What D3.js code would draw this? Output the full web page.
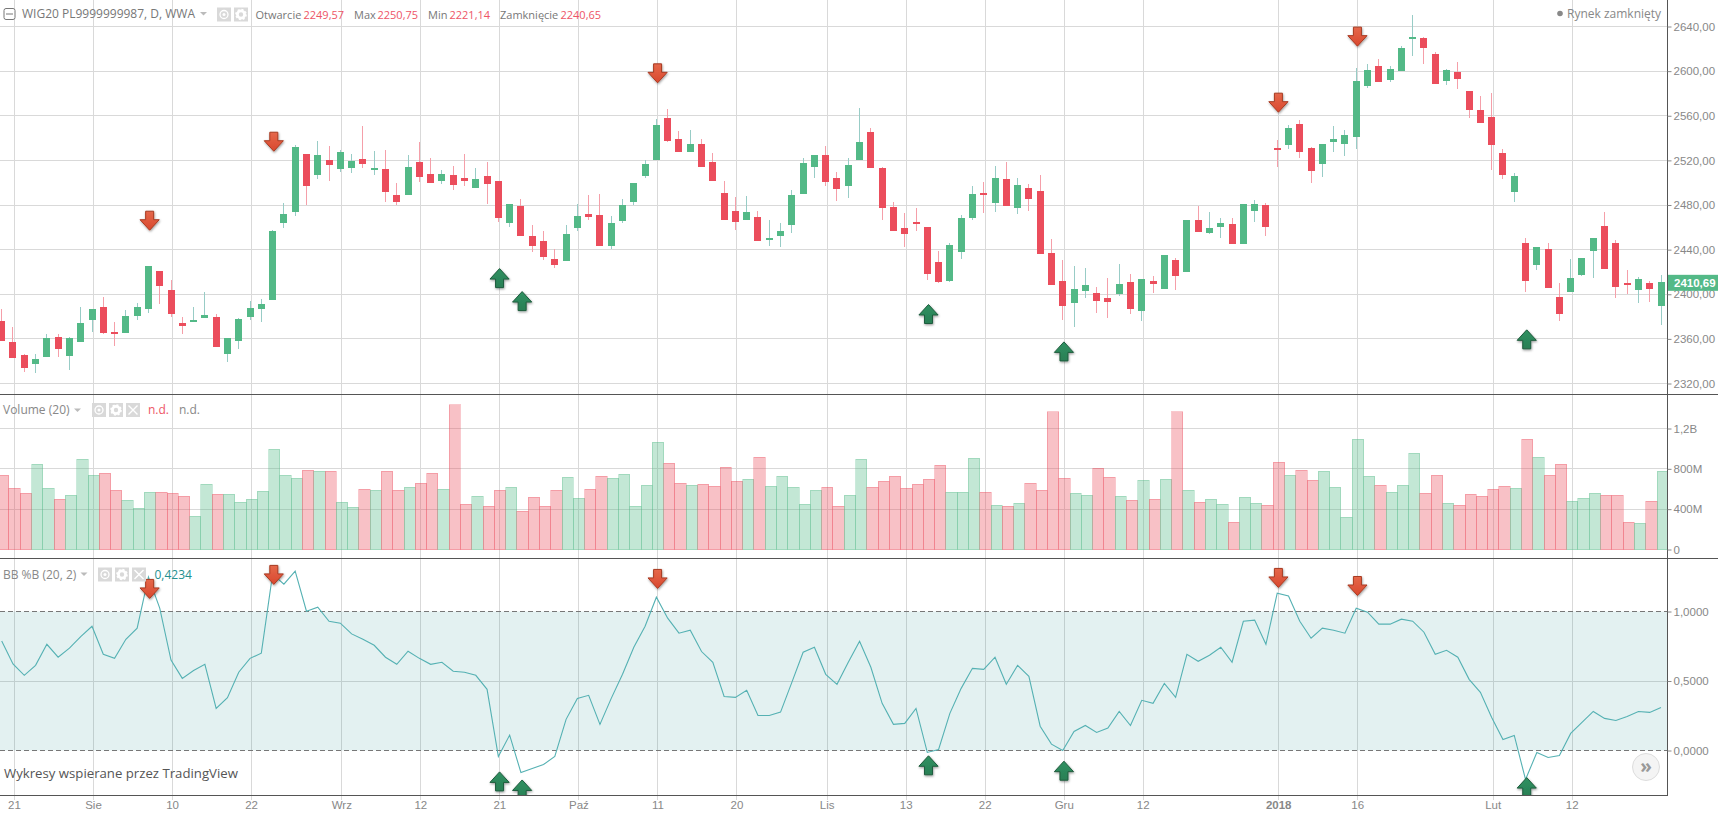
<!DOCTYPE html>
<html>

<head>
	<title>WIG20</title>
	<meta http-equiv="Content-Type" content="text/html; charset=UTF-8">
	<style>
		html,
		body {
			margin: 0px;
			padding: 0px;
			background: #fff;
			overflow: hidden;
		}

		svg {
			display: block;
		}

		text {
			font-family: "Open Sans", sans-serif;
			font-size: 11.5px;
		}

		.axis text {
			font-family: "Liberation Sans", Arial, sans-serif;
			font-size: 11.5px;
			fill: #888;
		}

		.axis line {
			stroke: #888;
		}

		.axis .domain {
			display: none;
		}

		.grid {
			stroke: #d9d9d9;
			stroke-width: 1;
			shape-rendering: crispEdges;
		}
	</style>
	<script src="https://cdnjs.cloudflare.com/ajax/libs/d3/7.8.5/d3.min.js"></script>
</head>

<body>

	<div id="chart"></div>

	<script>
		// x axis: candle number of each labelled date
		const tickIndex = [1, 8, 15, 22, 30, 37, 44, 51, 58, 65, 73, 80, 87, 94, 101, 113, 120, 132, 139];
		const tickLabels = ["21", "Sie", "10", "22", "Wrz", "12", "21", "Paź", "11", "20", "Lis", "13", "22", "Gru", "12", "2018", "16", "Lut", "12"];

		const priceTicks = [2320, 2360, 2400, 2440, 2480, 2520, 2560, 2600, 2640];
		const volumeTicks = [0, 400, 800, 1200];
		const volumeTickLabels = ["0", "400M", "800M", "1,2B"];
		const bandTicks = [0, 0.5, 1];

		const open = [
			2375.9, 2357.0, 2345.4, 2337.6, 2343.9, 2361.5, 2344.8, 2357.3, 2377.0, 2388.4, 2366.0, 2365.4,
			2380.3, 2386.9, 2420.7, 2403.6, 2374.1, 2375.3, 2378.8, 2379.4, 2346.6, 2358.2, 2379.4, 2386.9,
			2395.0, 2464.0, 2473.9, 2525.6, 2507.0, 2520.2, 2512.4, 2513.3, 2521.1, 2511.5, 2512.1, 2488.8,
			2489.1, 2518.4, 2507.6, 2501.6, 2506.7, 2504.0, 2495.4, 2505.8, 2501.4, 2464.0, 2478.9, 2452.0,
			2447.6, 2431.4, 2430.0, 2459.5, 2471.8, 2470.9, 2443.4, 2465.8, 2482.8, 2506.1, 2520.2, 2557.8,
			2539.0, 2527.6, 2534.5, 2518.4, 2490.6, 2474.5, 2466.7, 2469.1, 2448.8, 2452.4, 2462.2, 2490.0,
			2514.2, 2524.7, 2504.0, 2497.2, 2520.5, 2545.3, 2513.0, 2478.0, 2459.2, 2464.6, 2460.1, 2428.7,
			2412.0, 2438.0, 2468.5, 2490.6, 2481.9, 2503.1, 2477.4, 2495.1, 2492.4, 2436.8, 2411.7, 2392.3,
			2403.0, 2401.0, 2396.5, 2400.4, 2410.8, 2385.1, 2411.7, 2404.8, 2430.5, 2420.1, 2466.4, 2455.0,
			2460.4, 2462.8, 2445.2, 2474.8, 2479.8, 2530.9, 2533.9, 2552.4, 2530.9, 2516.9, 2536.6, 2534.8,
			2541.1, 2586.5, 2604.4, 2592.2, 2600.3, 2628.9, 2629.5, 2615.2, 2591.3, 2599.1, 2582.0, 2565.0,
			2558.7, 2526.4, 2491.8, 2445.8, 2426.4, 2440.4, 2397.4, 2402.1, 2417.4, 2438.9, 2461.0, 2445.8,
			2409.9, 2403.9, 2409.9, 2389.6
		];
		const high = [
			2387.2, 2370.5, 2346.3, 2346.3, 2364.2, 2364.2, 2361.5, 2388.4, 2387.2, 2397.4, 2375.3, 2385.7,
			2392.0, 2425.2, 2420.7, 2412.6, 2379.4, 2388.4, 2401.9, 2382.1, 2360.6, 2378.5, 2393.8, 2395.6,
			2457.4, 2481.6, 2534.2, 2525.6, 2537.2, 2532.7, 2529.1, 2525.6, 2550.7, 2528.2, 2529.1, 2499.6,
			2524.7, 2536.3, 2522.0, 2511.2, 2514.8, 2525.6, 2513.0, 2518.4, 2501.4, 2481.0, 2485.2, 2461.9,
			2456.5, 2440.4, 2461.9, 2480.7, 2488.8, 2489.7, 2470.0, 2485.2, 2499.6, 2520.2, 2556.9, 2565.9,
			2546.2, 2547.1, 2539.0, 2526.5, 2501.4, 2487.0, 2487.9, 2474.5, 2466.4, 2463.7, 2493.3, 2522.0,
			2524.7, 2532.7, 2509.4, 2522.0, 2566.8, 2548.9, 2513.9, 2482.5, 2472.7, 2477.1, 2460.1, 2438.6,
			2445.8, 2470.9, 2496.9, 2500.5, 2514.8, 2518.4, 2504.0, 2498.7, 2506.7, 2449.4, 2430.5, 2425.2,
			2423.4, 2406.3, 2414.4, 2426.9, 2418.0, 2413.5, 2416.2, 2435.0, 2432.3, 2466.4, 2478.9, 2473.6,
			2468.2, 2468.2, 2480.7, 2484.3, 2481.6, 2538.1, 2551.5, 2556.0, 2531.8, 2534.5, 2550.7, 2547.1,
			2602.6, 2606.2, 2610.7, 2604.4, 2622.4, 2650.2, 2630.4, 2617.0, 2601.7, 2608.0, 2582.0, 2577.5,
			2580.2, 2530.0, 2508.5, 2450.3, 2442.2, 2445.8, 2409.9, 2431.4, 2432.3, 2450.3, 2473.6, 2448.5,
			2421.6, 2415.3, 2411.7, 2417.1
		];
		const low = [
			2358.2, 2343.0, 2330.4, 2329.5, 2343.9, 2343.9, 2331.9, 2357.3, 2366.0, 2364.5, 2353.4, 2365.4,
			2377.0, 2383.3, 2391.4, 2379.7, 2364.5, 2375.3, 2378.8, 2352.8, 2339.4, 2351.1, 2377.0, 2375.3,
			2395.0, 2459.5, 2470.3, 2479.8, 2503.4, 2501.6, 2509.7, 2508.8, 2513.3, 2507.0, 2482.8, 2480.1,
			2489.1, 2500.8, 2499.9, 2499.0, 2493.6, 2497.2, 2495.4, 2481.0, 2464.9, 2460.4, 2452.4, 2438.0,
			2430.8, 2423.7, 2430.0, 2456.8, 2466.7, 2443.4, 2440.4, 2464.0, 2480.1, 2504.3, 2520.2, 2536.3,
			2527.6, 2527.6, 2514.2, 2501.6, 2466.7, 2457.4, 2466.7, 2447.9, 2443.4, 2442.5, 2455.0, 2490.0,
			2504.3, 2497.2, 2483.7, 2486.4, 2520.5, 2513.3, 2466.7, 2456.8, 2442.5, 2456.8, 2412.9, 2410.2,
			2411.1, 2431.7, 2466.7, 2473.0, 2473.9, 2479.2, 2472.1, 2474.8, 2436.2, 2408.4, 2377.0, 2370.8,
			2396.8, 2383.3, 2378.8, 2398.6, 2382.4, 2376.2, 2401.3, 2404.8, 2403.9, 2420.1, 2455.9, 2454.1,
			2450.6, 2445.2, 2445.2, 2464.9, 2452.4, 2514.2, 2530.3, 2522.3, 2499.9, 2505.2, 2527.6, 2524.1,
			2530.3, 2585.0, 2590.4, 2590.4, 2600.3, 2613.7, 2606.5, 2588.6, 2587.7, 2584.1, 2558.1, 2553.6,
			2511.5, 2503.4, 2482.8, 2402.1, 2421.9, 2405.7, 2376.2, 2402.1, 2416.5, 2414.7, 2422.8, 2396.8,
			2400.0, 2392.3, 2393.2, 2372.6
		];
		const close = [
			2358.2, 2343.0, 2334.0, 2341.8, 2360.6, 2351.1, 2360.6, 2374.1, 2386.6, 2365.1, 2365.1, 2380.3,
			2388.4, 2425.2, 2407.5, 2382.1, 2371.7, 2376.8, 2381.2, 2352.8, 2360.6, 2377.6, 2387.5, 2391.1,
			2456.5, 2471.8, 2531.8, 2497.2, 2524.7, 2516.0, 2527.4, 2519.3, 2516.9, 2513.0, 2491.8, 2482.8,
			2513.9, 2505.2, 2499.9, 2507.6, 2498.1, 2501.6, 2503.1, 2499.0, 2468.5, 2480.7, 2452.4, 2443.4,
			2433.5, 2426.4, 2453.8, 2470.0, 2469.4, 2443.4, 2463.7, 2479.8, 2499.6, 2516.6, 2551.5, 2537.5,
			2527.6, 2534.5, 2514.2, 2501.6, 2466.7, 2464.9, 2473.6, 2447.9, 2450.3, 2456.5, 2488.8, 2517.5,
			2524.7, 2500.8, 2494.5, 2515.7, 2536.3, 2513.3, 2477.4, 2456.8, 2454.1, 2464.0, 2418.3, 2411.1,
			2444.0, 2468.2, 2489.7, 2489.1, 2504.0, 2479.2, 2497.8, 2485.5, 2436.2, 2408.4, 2389.6, 2404.5,
			2408.1, 2394.1, 2393.2, 2409.0, 2386.9, 2413.5, 2409.3, 2435.0, 2416.5, 2466.4, 2455.9, 2459.2,
			2463.7, 2445.2, 2480.7, 2480.7, 2460.4, 2529.4, 2548.9, 2527.6, 2510.6, 2534.5, 2539.0, 2542.6,
			2591.0, 2600.9, 2590.4, 2601.7, 2620.6, 2630.4, 2620.9, 2588.6, 2600.9, 2593.1, 2565.3, 2553.6,
			2533.9, 2507.0, 2505.8, 2412.0, 2442.2, 2405.7, 2382.4, 2414.4, 2432.3, 2450.3, 2422.8, 2406.6,
			2408.4, 2413.5, 2404.8, 2410.69
		];

		// volume in millions
		const volume = [
			735, 607, 557, 844, 607, 498, 537, 893, 735, 755, 587, 488,
			409, 567, 567, 557, 527, 330, 646, 547, 547, 468, 498, 577,
			992, 735, 705, 785, 775, 775, 468, 419, 597, 587, 775, 587,
			616, 656, 755, 597, 1437, 448, 527, 429, 587, 616, 379, 518,
			429, 587, 715, 508, 597, 725, 705, 745, 429, 636, 1062, 854,
			656, 636, 646, 626, 814, 676, 696, 913, 626, 725, 616, 448,
			587, 616, 429, 537, 893, 616, 676, 725, 607, 646, 696, 834,
			567, 567, 903, 567, 438, 429, 458, 656, 587, 1368, 705, 557,
			537, 804, 715, 527, 488, 686, 498, 696, 1368, 587, 468, 498,
			448, 270, 518, 458, 438, 864, 735, 785, 686, 775, 616, 320,
			1091, 725, 636, 567, 636, 953, 557, 735, 458, 438, 547, 527,
			597, 626, 607, 1091, 913, 735, 844, 478, 508, 557, 537, 537,
			270, 260, 478, 775
		];

		const percentB = [
			0.788, 0.623, 0.541, 0.613, 0.764, 0.671, 0.736, 0.820, 0.894, 0.692, 0.663, 0.800,
			0.880, 1.248, 1.024, 0.651, 0.519, 0.575, 0.620, 0.303, 0.380, 0.563, 0.663, 0.700,
			1.269, 1.197, 1.291, 1.002, 1.031, 0.930, 0.916, 0.839, 0.800, 0.757, 0.671, 0.620,
			0.714, 0.663, 0.620, 0.635, 0.570, 0.563, 0.541, 0.440, -0.043, 0.111, -0.159, -0.130,
			-0.101, -0.043, 0.224, 0.375, 0.397, 0.188, 0.375, 0.548, 0.743, 0.894, 1.103, 0.952,
			0.844, 0.865, 0.712, 0.635, 0.389, 0.382, 0.433, 0.252, 0.252, 0.276, 0.490, 0.707,
			0.743, 0.548, 0.476, 0.635, 0.786, 0.599, 0.339, 0.188, 0.195, 0.303, -0.014, 0.007,
			0.267, 0.447, 0.591, 0.584, 0.671, 0.476, 0.613, 0.534, 0.175, 0.046, 0.000, 0.137,
			0.180, 0.130, 0.161, 0.281, 0.180, 0.361, 0.339, 0.483, 0.382, 0.692, 0.642, 0.685,
			0.743, 0.635, 0.930, 0.938, 0.764, 1.132, 1.111, 0.930, 0.808, 0.880, 0.865, 0.844,
			1.024, 0.995, 0.909, 0.909, 0.945, 0.930, 0.851, 0.692, 0.721, 0.671, 0.512, 0.418,
			0.238, 0.079, 0.108, -0.209, -0.014, -0.050, -0.036, 0.123, 0.202, 0.281, 0.231, 0.216,
			0.245, 0.281, 0.274, 0.310
		];

		// signal arrows: candle number, tip on the price pane, tip on the %B pane
		const sellIndex = [13, 24, 58, 113, 120];
		const sellPrice = [2457.4, 2528.2, 2589.5, 2563.2, 2622.4];
		const sellBand = [1.094, 1.195, 1.166, 1.173, 1.115];
		const buyIndex = [44, 46, 82, 94, 135];
		const buyPrice = [2423.0, 2402.4, 2390.8, 2357.3, 2368.1];
		const buyBand = [-0.154, -0.212, -0.038, -0.077, -0.195];

		const width = 1718;
		const height = 814;
		const axisX = 1667.5;

		const upColor = "#53b987";
		const downColor = "#eb4d5c";

		const x = d3.scaleLinear().domain([0, 147]).range([1.7, 1661]);
		const yPrice = d3.scaleLinear().domain([2320, 2640]).range([383.5, 26.5]);
		const yVolume = d3.scaleLinear().domain([0, 1200]).range([549.5, 428.5]);
		const yBand = d3.scaleLinear().domain([0, 1]).range([750.5, 611.5]);

		const pl = d3.formatLocale({ decimal: ",", thousands: " ", grouping: [3], currency: ["", " zł"] });

		const svg = d3.select("#chart").append("svg").attr("width", width).attr("height", height);
		const defs = svg.append("defs");

		function addClip(id, top, bottom) {
			defs.append("clipPath").attr("id", id).append("rect")
				.attr("x", 0).attr("y", top).attr("width", axisX).attr("height", bottom - top);
		}
		addClip("clip-price", 0, 394);
		addClip("clip-volume", 395, 558);
		addClip("clip-band", 559, 795);

		function addGradient(id, top, bottom) {
			const g = defs.append("linearGradient").attr("id", id).attr("x1", 0).attr("x2", 0).attr("y1", 0).attr("y2", 1);
			g.append("stop").attr("offset", "0%").attr("stop-color", top);
			g.append("stop").attr("offset", "100%").attr("stop-color", bottom);
		}
		addGradient("sell-fill", "#e5684a", "#d9482f");
		addGradient("buy-fill", "#2f9161", "#2a7f55");

		const shadow = defs.append("filter").attr("id", "arrow-shadow")
			.attr("x", "-30%").attr("y", "-30%").attr("width", "170%").attr("height", "170%");
		shadow.append("feDropShadow").attr("dx", 0.6).attr("dy", 1.2).attr("stdDeviation", 0.8)
			.attr("flood-color", "#000").attr("flood-opacity", 0.4);

		// grid lines run through all the panes
		const gridLayer = svg.append("g");
		gridLayer.selectAll("line.v").data(tickIndex).join("line")
			.attr("class", "grid v")
			.attr("x1", d => Math.round(x(d) + 1) + 0.5)
			.attr("x2", d => Math.round(x(d) + 1) + 0.5)
			.attr("y1", 0).attr("y2", 800);

		function hGrid(values, scale) {
			gridLayer.selectAll(null).data(values).join("line")
				.attr("class", "grid")
				.attr("x1", 0).attr("x2", axisX)
				.attr("y1", d => Math.floor(scale(d)) + 0.5)
				.attr("y2", d => Math.floor(scale(d)) + 0.5);
		}
		hGrid(priceTicks, yPrice);
		hGrid(volumeTicks.slice(1), yVolume);
		hGrid([0.5], yBand);

		// candles
		const candles = svg.append("g").attr("clip-path", "url(#clip-price)");
		const isUp = i => close[i] >= open[i];

		candles.selectAll("line").data(d3.range(open.length)).join("line")
			.attr("x1", i => Math.floor(x(i)) + 0.5)
			.attr("x2", i => Math.floor(x(i)) + 0.5)
			.attr("y1", i => yPrice(high[i]))
			.attr("y2", i => yPrice(low[i]))
			.attr("stroke", i => isUp(i) ? "#98ccc6" : "#f59fa9")
			.attr("shape-rendering", "crispEdges");

		candles.selectAll("rect").data(d3.range(open.length)).join("rect")
			.attr("x", i => Math.floor(x(i)) - 3)
			.attr("width", 7)
			.attr("y", i => Math.round(yPrice(Math.max(open[i], close[i]))))
			.attr("height", i => Math.max(2, Math.round(yPrice(Math.min(open[i], close[i]))) - Math.round(yPrice(Math.max(open[i], close[i])))))
			.attr("fill", i => isUp(i) ? upColor : downColor)
			.attr("shape-rendering", "crispEdges");

		// volume
		const step = x(1) - x(0);
		svg.append("g").attr("clip-path", "url(#clip-volume)")
			.selectAll("rect").data(volume).join("rect")
			.attr("x", (d, i) => x(i) - 4)
			.attr("width", step)
			.attr("y", d => yVolume(d))
			.attr("height", d => yVolume(0) - yVolume(d))
			.attr("fill", (d, i) => isUp(i) ? upColor : downColor)
			.attr("fill-opacity", 0.35)
			.attr("stroke", (d, i) => isUp(i) ? upColor : downColor)
			.attr("stroke-opacity", 0.3)
			.attr("shape-rendering", "crispEdges");

		// %B band
		const bandLayer = svg.append("g").attr("clip-path", "url(#clip-band)");
		bandLayer.append("rect")
			.attr("x", 0).attr("width", axisX)
			.attr("y", yBand(1)).attr("height", yBand(0) - yBand(1))
			.attr("fill", "rgba(0,128,128,0.11)");
		bandLayer.selectAll("line").data([0, 1]).join("line")
			.attr("x1", 0).attr("x2", axisX)
			.attr("y1", d => yBand(d)).attr("y2", d => yBand(d))
			.attr("stroke", "#777").attr("stroke-dasharray", "5,3")
			.attr("shape-rendering", "crispEdges");
		bandLayer.append("path")
			.datum(percentB)
			.attr("d", d3.line().x((d, i) => x(i)).y(d => yBand(d)))
			.attr("fill", "none")
			.attr("stroke", "#55b1b3")
			.attr("stroke-width", 1.1);

		// signal arrows, tip at the origin
		const sellShape = "M-4,-19L4,-19L4,-10.5L9.6,-10.5L0,0L-9.6,-10.5L-4,-10.5Z";
		const buyShape = "M-4,19L4,19L4,10.5L9.6,10.5L0,0L-9.6,10.5L-4,10.5Z";

		function drawArrows(layer, index, values, scale, shape, fill, edge) {
			layer.selectAll(null).data(index).join("path")
				.attr("d", shape)
				.attr("transform", (d, i) => "translate(" + (x(d) + 1.2) + "," + scale(values[i]) + ")")
				.attr("fill", fill)
				.attr("stroke", edge)
				.attr("filter", "url(#arrow-shadow)");
		}
		const priceArrows = svg.append("g").attr("clip-path", "url(#clip-price)");
		drawArrows(priceArrows, sellIndex, sellPrice, yPrice, sellShape, "url(#sell-fill)", "#a83b22");
		drawArrows(priceArrows, buyIndex, buyPrice, yPrice, buyShape, "url(#buy-fill)", "#1f5c3d");
		const bandArrows = svg.append("g").attr("clip-path", "url(#clip-band)");
		drawArrows(bandArrows, sellIndex, sellBand, yBand, sellShape, "url(#sell-fill)", "#a83b22");
		drawArrows(bandArrows, buyIndex, buyBand, yBand, buyShape, "url(#buy-fill)", "#1f5c3d");

		// pane borders
		const borders = svg.append("g").attr("stroke", "#555").attr("shape-rendering", "crispEdges");
		[394.5, 558.5, 795.5].forEach(y => {
			borders.append("line").attr("x1", 0).attr("x2", axisX).attr("y1", y).attr("y2", y);
		});
		borders.append("line").attr("x1", axisX).attr("x2", axisX).attr("y1", 0).attr("y2", 795.5);
		borders.selectAll(null).data([394.5, 558.5]).join("line")
			.attr("x1", axisX).attr("x2", width).attr("y1", d => d).attr("y2", d => d);

		// axes
		svg.append("g").attr("class", "axis").attr("transform", "translate(" + axisX + ",0)")
			.call(d3.axisRight(yPrice).tickValues(priceTicks).tickSize(4).tickPadding(2).tickFormat(pl.format(".2f")));
		svg.append("g").attr("class", "axis").attr("transform", "translate(" + axisX + ",0)")
			.call(d3.axisRight(yVolume).tickValues(volumeTicks).tickSize(4).tickPadding(2)
				.tickFormat((d, i) => volumeTickLabels[i]));
		svg.append("g").attr("class", "axis").attr("transform", "translate(" + axisX + ",0)")
			.call(d3.axisRight(yBand).tickValues(bandTicks).tickSize(4).tickPadding(2).tickFormat(pl.format(".4f")));

		const xAxis = svg.append("g").attr("class", "axis").attr("transform", "translate(1,795)")
			.call(d3.axisBottom(x).tickValues(tickIndex).tickSize(0).tickPadding(6)
				.tickFormat((d, i) => tickLabels[i]));
		xAxis.selectAll("text")
			.attr("font-weight", d => d === 113 ? "bold" : null);

		// last price label
		const lastPrice = close[close.length - 1];
		svg.append("rect")
			.attr("x", axisX + 0.5).attr("width", width - axisX)
			.attr("y", yPrice(lastPrice) - 7.5).attr("height", 16)
			.attr("fill", upColor);
		svg.append("text")
			.attr("x", 1674).attr("y", yPrice(lastPrice) + 4.5)
			.attr("fill", "#fff")
			.style("font-family", '"Liberation Sans", Arial, sans-serif')
			.style("font-weight", "bold")
			.text(pl.format(".2f")(lastPrice));

		// legends
		function label(px, py, str, color, size) {
			return svg.append("text").attr("x", px).attr("y", py)
				.attr("fill", color).style("font-size", (size || 11.5) + "px").text(str);
		}

		function caret(px, py) {
			svg.append("path").attr("d", "M" + px + "," + py + "h7l-3.5,3.5z").attr("fill", "#bbb");
		}

		function iconBox(px, py, size, kind) {
			svg.append("rect").attr("x", px).attr("y", py).attr("width", size).attr("height", size).attr("fill", "#d9d9d9");
			const cx = px + size / 2;
			const cy = py + size / 2;
			if (kind === "eye") {
				svg.append("circle").attr("cx", cx).attr("cy", cy).attr("r", 4).attr("fill", "none").attr("stroke", "#fff").attr("stroke-width", 1.3);
				svg.append("circle").attr("cx", cx).attr("cy", cy).attr("r", 1.5).attr("fill", "#fff");
			} else if (kind === "gear") {
				svg.append("circle").attr("cx", cx).attr("cy", cy).attr("r", 3.6).attr("fill", "none").attr("stroke", "#fff").attr("stroke-width", 2.8);
				svg.append("circle").attr("cx", cx).attr("cy", cy).attr("r", 5).attr("fill", "none").attr("stroke", "#fff").attr("stroke-width", 1.6).attr("stroke-dasharray", "2,1.9");
			} else {
				svg.append("path").attr("d", "M" + (cx - 4.5) + "," + (cy - 4.5) + "l9,9m0,-9l-9,9").attr("stroke", "#fff").attr("stroke-width", 1.4);
			}
		}

		svg.append("rect").attr("x", 4).attr("y", 8.5).attr("width", 11).attr("height", 11).attr("rx", 2)
			.attr("fill", "#fff").attr("stroke", "#777");
		svg.append("line").attr("x1", 6).attr("x2", 13).attr("y1", 14).attr("y2", 14).attr("stroke", "#777");

		label(22, 18, "WIG20 PL9999999987, D, WWA", "#777", 12);
		caret(200, 12);
		iconBox(217, 7.5, 14, "eye");
		iconBox(234, 7.5, 14, "gear");

		label(255.5, 19, "Otwarcie", "#777", 11);
		label(303.5, 19, "2249,57", "#ee5566", 11);
		label(354, 19, "Max", "#777", 11);
		label(377.5, 19, "2250,75", "#ee5566", 11);
		label(428, 19, "Min", "#777", 11);
		label(449.5, 19, "2221,14", "#ee5566", 11);
		label(500, 19, "Zamknięcie", "#777", 11);
		label(560.5, 19, "2240,65", "#ee5566", 11);

		svg.append("circle").attr("cx", 1560).attr("cy", 13.5).attr("r", 2.8).attr("fill", "#888");
		label(1567, 18, "Rynek zamknięty", "#888", 12);

		label(3, 414, "Volume (20)", "#888", 12);
		caret(74, 408.5);
		iconBox(92, 403, 14, "eye");
		iconBox(109, 403, 14, "gear");
		iconBox(126, 403, 14, "close");
		label(148, 414, "n.d.", "#ee5566", 12);
		label(179, 414, "n.d.", "#888", 12);

		label(3, 578.5, "BB %B (20, 2)", "#888", 12);
		caret(80.5, 572.5);
		iconBox(98, 567.5, 14, "eye");
		iconBox(115, 567.5, 14, "gear");
		iconBox(132, 567.5, 14, "close");
		label(154.5, 578.5, "0,4234", "#26908f", 12);

		label(4, 778, "Wykresy wspierane przez TradingView", "#555", 13.2);

		// scroll button
		svg.append("circle").attr("cx", 1646).attr("cy", 767).attr("r", 13.5)
			.attr("fill", "#f4f4f4").attr("stroke", "#ddd");
		svg.append("text").attr("x", 1646).attr("y", 772.5).attr("text-anchor", "middle")
			.attr("fill", "#999").style("font-size", "19px").style("font-weight", "bold").text("»");
	</script>

</body>

</html>
